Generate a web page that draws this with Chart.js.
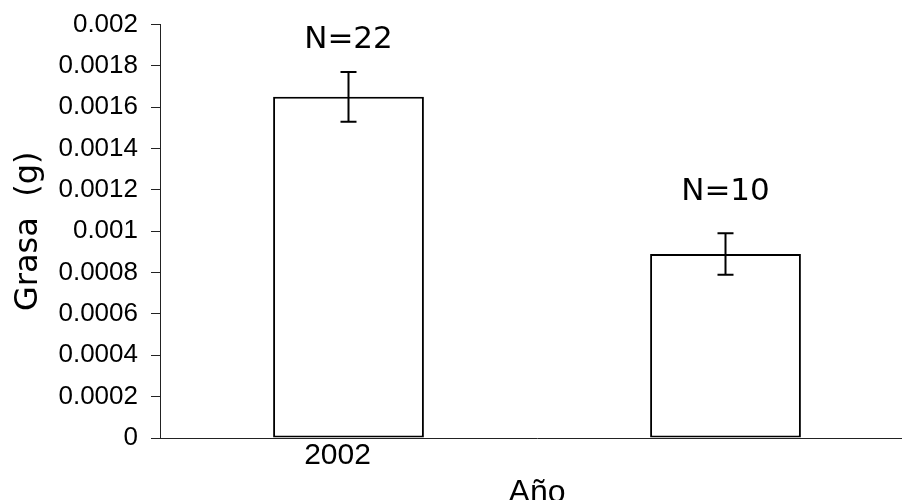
<!DOCTYPE html>
<html>
<head>
<meta charset="utf-8">
<script src="https://cdn.jsdelivr.net/npm/chart.js@4/dist/chart.umd.min.js"></script>
<style>
  html, body { margin: 0; padding: 0; background: #fff; overflow: hidden; }
  canvas { display: block; }
</style>
</head>
<body>
<canvas id="c" width="914" height="512"></canvas>
<script>
// Fat content per year (grams), with standard errors and sample sizes
const years = ['2002', ''];
const grasa = [0.00165, 0.00089];
const errores = [0.00012, 0.0001];
const muestras = ['N=22', 'N=10'];
const yTicks = [0, 0.0002, 0.0004, 0.0006, 0.0008, 0.001, 0.0012, 0.0014, 0.0016, 0.0018, 0.002];

// Error bars plus the sample-size label above each bar
const errorBarPlugin = {
  id: 'errorBars',
  afterDatasetsDraw(chart) {
    const { ctx, scales: { y } } = chart;
    const meta = chart.getDatasetMeta(0);
    const labelGap = [32, 41];
    ctx.save();
    ctx.strokeStyle = '#000';
    ctx.lineWidth = 2;
    meta.data.forEach((bar, i) => {
      const v = grasa[i];
      const e = errores[i];
      const x = bar.x;
      const yHi = y.getPixelForValue(v + e);
      const yLo = y.getPixelForValue(v - e);
      ctx.beginPath();
      ctx.moveTo(x, yHi); ctx.lineTo(x, yLo);
      ctx.moveTo(x - 8, yHi); ctx.lineTo(x + 8, yHi);
      ctx.moveTo(x - 8, yLo); ctx.lineTo(x + 8, yLo);
      ctx.stroke();
      ctx.fillStyle = '#000';
      ctx.font = '31px "DejaVu Sans"';
      ctx.textAlign = 'center';
      ctx.textBaseline = 'middle';
      ctx.fillText(muestras[i], x, yHi - labelGap[i]);
    });
    ctx.restore();
  }
};

new Chart(document.getElementById('c'), {
  type: 'bar',
  data: {
    labels: years,
    datasets: [{
      data: grasa,
      backgroundColor: '#fff',
      borderColor: '#000',
      borderWidth: 2,
      borderSkipped: false,
      barPercentage: 0.4,
      categoryPercentage: 1
    }]
  },
  options: {
    responsive: false,
    animation: false,
    devicePixelRatio: 1,
    layout: { padding: { top: 24.5, right: 0, bottom: 0, left: 0 } },
    plugins: { legend: { display: false }, tooltip: { enabled: false } },
    scales: {
      x: {
        grid: { display: false, drawTicks: false },
        border: { display: true, color: '#222', width: 1 },
        ticks: {
          color: '#000',
          font: { family: '"Liberation Sans", Arial', size: 30, lineHeight: 1.2 },
          padding: 0,
          labelOffset: -11,
          maxRotation: 0
        },
        title: {
          display: true,
          text: 'Año',
          color: '#000',
          font: { family: '"Liberation Sans", Arial', size: 32, lineHeight: 1.2 },
          padding: { top: 0, bottom: 0 }
        },
        afterFit(scale) { scale.height = 74; }
      },
      y: {
        min: 0,
        max: 0.002,
        afterBuildTicks(scale) { scale.ticks = yTicks.map(v => ({ value: v })); },
        grid: { display: true, drawOnChartArea: false, drawTicks: true, tickLength: 9, color: '#222', lineWidth: 1 },
        border: { display: true, color: '#222', width: 1 },
        ticks: {
          color: '#000',
          font: { family: '"Liberation Sans", Arial', size: 26 },
          padding: 13,
          callback: v => String(parseFloat(Number(v).toFixed(4)))
        },
        title: {
          display: true,
          text: 'Grasa  (g)',
          color: '#000',
          font: { family: '"DejaVu Sans"', size: 32, lineHeight: 1.2 },
          padding: { top: 9, bottom: 0 }
        },
        afterFit(scale) {
          scale.width = 160;
          scale.paddingTop = 0;
          scale.paddingBottom = 0;
        }
      }
    }
  },
  plugins: [errorBarPlugin]
});
</script>
</body>
</html>
